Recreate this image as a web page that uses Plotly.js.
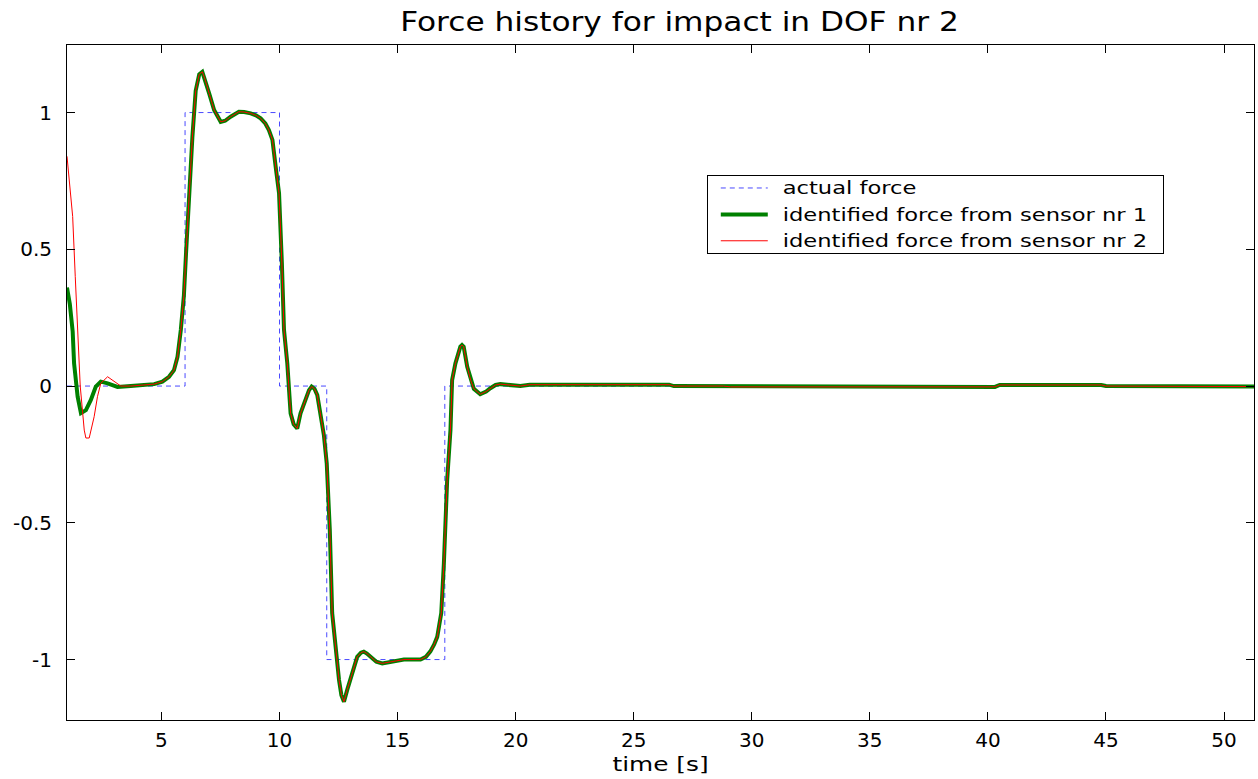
<!DOCTYPE html>
<html>
<head>
<meta charset="utf-8">
<script src="https://cdn.plot.ly/plotly-3.0.1.min.js"></script>
<style>html,body{margin:0;padding:0;background:#fff;}#chart{width:1258px;height:779px;}</style>
</head>
<body>
<div id="chart"></div>
<script>
// actual force (square pulse)
var actualX = [1, 6, 6, 10, 10, 12, 12, 17, 17, 51.27];
var actualY = [0, 0, 1, 1, 0, 0, -1, -1, 0, 0];

// identified force from sensor nr 1
var sensor1X = [1.0, 1.12, 1.24, 1.3, 1.45, 1.59, 1.8, 2.01, 2.22, 2.43, 2.72, 3.14, 3.7, 4.2, 4.69, 5.04, 5.32, 5.53, 5.68, 5.82, 5.95, 6.05, 6.16, 6.31, 6.45, 6.6, 6.73, 6.85, 7.02, 7.23, 7.51, 7.7, 7.93, 8.28, 8.5, 8.78, 9.0, 9.2, 9.4, 9.55, 9.7, 9.84, 9.98, 10.1, 10.19, 10.33, 10.47, 10.6, 10.75, 10.89, 11.11, 11.25, 11.36, 11.48, 11.6, 11.74, 11.88, 12.0, 12.13, 12.23, 12.38, 12.52, 12.62, 12.73, 12.87, 13.08, 13.29, 13.45, 13.57, 13.7, 13.86, 14.1, 14.35, 14.7, 15.27, 15.97, 16.2, 16.39, 16.55, 16.68, 16.85, 16.96, 17.03, 17.1, 17.24, 17.31, 17.45, 17.66, 17.73, 17.8, 17.95, 18.1, 18.23, 18.5, 18.75, 18.93, 19.15, 19.35, 19.8, 20.2, 20.6, 26.5, 26.7, 28.8, 29.1, 40.3, 40.5, 44.8, 45.0, 49.2, 49.4, 51.27];
var sensor1Y = [0.36, 0.3, 0.2, 0.083, -0.039, -0.099, -0.088, -0.051, -0.002, 0.016, 0.01, -0.003, 0.0, 0.003, 0.007, 0.016, 0.034, 0.058, 0.107, 0.205, 0.33, 0.5, 0.68, 0.91, 1.08, 1.14, 1.149, 1.12, 1.07, 1.009, 0.966, 0.97, 0.985, 1.003, 1.002, 0.997, 0.99, 0.979, 0.96, 0.936, 0.9, 0.80, 0.705, 0.45, 0.205, 0.083, -0.1, -0.14, -0.155, -0.1, -0.051, -0.015, -0.002, -0.01, -0.033, -0.1, -0.18, -0.283, -0.527, -0.83, -0.97, -1.075, -1.13, -1.154, -1.11, -1.05, -0.99, -0.975, -0.971, -0.978, -0.99, -1.008, -1.014, -1.008, -1.0, -1.0, -0.99, -0.97, -0.945, -0.917, -0.83, -0.65, -0.5, -0.344, -0.16, 0.022, 0.083, 0.144, 0.15, 0.144, 0.07, 0.02, -0.01, -0.03, -0.02, -0.008, 0.004, 0.007, 0.003, 0.0, 0.005, 0.005, 0.0, 0.0, -0.003, -0.003, 0.004, 0.004, 0.0, 0.0, -0.002, -0.002];

// identified force from sensor nr 2
var sensor2X = [1.0, 1.12, 1.24, 1.35, 1.45, 1.56, 1.73, 1.8, 1.94, 2.15, 2.29, 2.43, 2.72, 2.93, 3.28, 3.7, 4.2, 4.69, 5.04, 5.32, 5.53, 5.68, 5.82, 5.95, 6.05, 6.16, 6.31, 6.45, 6.6, 6.73, 6.85, 7.02, 7.23, 7.51, 7.7, 7.93, 8.28, 8.5, 8.78, 9.0, 9.2, 9.4, 9.55, 9.7, 9.84, 9.98, 10.1, 10.19, 10.33, 10.47, 10.6, 10.75, 10.89, 11.11, 11.25, 11.36, 11.48, 11.6, 11.74, 11.88, 12.0, 12.13, 12.23, 12.38, 12.52, 12.62, 12.73, 12.87, 13.08, 13.29, 13.45, 13.57, 13.7, 13.86, 14.1, 14.35, 14.7, 15.27, 15.97, 16.2, 16.39, 16.55, 16.68, 16.85, 16.96, 17.03, 17.1, 17.24, 17.31, 17.45, 17.66, 17.73, 17.8, 17.95, 18.1, 18.23, 18.5, 18.75, 18.93, 19.15, 19.35, 19.8, 20.2, 20.6, 26.5, 26.7, 28.8, 29.1, 40.3, 40.5, 44.8, 45.0, 49.2, 49.4, 51.27];
var sensor2Y = [0.84, 0.74, 0.62, 0.4, 0.205, 0.0, -0.161, -0.19, -0.19, -0.112, -0.039, 0.01, 0.034, 0.022, 0.0, 0.0, 0.003, 0.007, 0.016, 0.034, 0.058, 0.107, 0.205, 0.33, 0.5, 0.68, 0.91, 1.08, 1.14, 1.149, 1.12, 1.07, 1.009, 0.966, 0.97, 0.985, 1.003, 1.002, 0.997, 0.99, 0.979, 0.96, 0.936, 0.9, 0.80, 0.705, 0.45, 0.205, 0.083, -0.1, -0.14, -0.155, -0.1, -0.051, -0.015, -0.002, -0.01, -0.033, -0.1, -0.18, -0.283, -0.527, -0.83, -0.97, -1.075, -1.13, -1.154, -1.11, -1.05, -0.99, -0.975, -0.971, -0.978, -0.99, -1.008, -1.014, -1.008, -1.0, -1.0, -0.99, -0.97, -0.945, -0.917, -0.83, -0.65, -0.5, -0.344, -0.16, 0.022, 0.083, 0.144, 0.15, 0.144, 0.07, 0.02, -0.01, -0.03, -0.02, -0.008, 0.004, 0.007, 0.003, 0.0, 0.005, 0.005, 0.0, 0.0, -0.003, -0.003, 0.004, 0.004, 0.0, 0.0, -0.002, -0.002];

var xTicks = [5, 10, 15, 20, 25, 30, 35, 40, 45, 50];
var yTicks = [-1, -0.5, 0, 0.5, 1];
var yTickLabels = ['-1', '-0.5', '0', '0.5', '1'];

var seriesNames = ['actual force', 'identified force from sensor nr 1', 'identified force from sensor nr 2'];

var font = 'DejaVu Sans, Liberation Sans, Arial, sans-serif';

var traces = [
  {x: actualX, y: actualY, type: 'scatter', mode: 'lines', name: seriesNames[0],
   line: {color: '#4a4aff', width: 1, dash: '5px,4px'}},
  {x: sensor1X, y: sensor1Y, type: 'scatter', mode: 'lines', name: seriesNames[1],
   line: {color: '#008000', width: 4}},
  {x: sensor2X, y: sensor2Y, type: 'scatter', mode: 'lines', name: seriesNames[2],
   line: {color: '#ff0000', width: 1}}
];

var layout = {
  width: 1258, height: 779,
  margin: {l: 67, r: 4, t: 45, b: 59, pad: 0},
  paper_bgcolor: '#ffffff', plot_bgcolor: '#ffffff',
  font: {family: font, color: '#000000', size: 20},
  title: {text: 'Force history for impact in DOF nr 2', font: {family: font, size: 26, color: '#000'},
          x: 0.516, xref: 'paper', xanchor: 'center', y: 0.972, yref: 'container', yanchor: 'middle'},
  xaxis: {
    range: [1, 51.27], tickmode: 'array', tickvals: xTicks,
    ticks: 'inside', ticklen: 8, tickcolor: '#000', tickwidth: 1,
    showline: true, linecolor: '#000', linewidth: 1, mirror: 'ticks',
    showgrid: false, zeroline: false, ticklabelstandoff: 2,
    tickfont: {family: font, size: 20, color: '#000'},
    title: {text: 'time [s]', font: {family: font, size: 20, color: '#000'}, standoff: 4}
  },
  yaxis: {
    range: [-1.221, 1.247], tickmode: 'array', tickvals: yTicks, ticktext: yTickLabels,
    ticks: 'inside', ticklen: 8, tickcolor: '#000', tickwidth: 1,
    showline: true, linecolor: '#000', linewidth: 1, mirror: 'ticks',
    showgrid: false, zeroline: false, ticklabelstandoff: 10,
    tickfont: {family: font, size: 20, color: '#000'}
  },
  showlegend: true,
  legend: {
    x: 0.539, y: 0.807, xanchor: 'left', yanchor: 'top',
    bordercolor: '#000', borderwidth: 1, bgcolor: '#fff',
    font: {family: font, size: 18, color: '#000'},
    tracegroupgap: 0, itemwidth: 40
  }
};

// widen text horizontally (the reference's lettering is stretched sideways)
function stretchText(nodes, s, anchor, dx) {
  var extra = 0;
  nodes.forEach(function (t) {
    var b = t.getBBox();
    var cx = anchor === 'start' ? b.x : (anchor === 'end' ? b.x + b.width : b.x + b.width / 2);
    var prev = t.getAttribute('transform') || '';
    t.setAttribute('transform', prev + ' translate(' + (cx + (dx || 0)) + ',0) scale(' + s + ',1) translate(' + (-cx) + ',0)');
    extra = Math.max(extra, b.width * (s - 1));
  });
  return extra;
}

Plotly.newPlot('chart', traces, layout, {displayModeBar: false, staticPlot: true}).then(function (gd) {
  stretchText(gd.querySelectorAll('.gtitle'), 1.2, 'middle');
  stretchText(gd.querySelectorAll('.xtitle'), 1.24, 'middle');
  var shift = 25, lift = 7;
  var extra = stretchText(gd.querySelectorAll('.legendtext'), 1.255, 'start', shift);
  // longer legend line samples, as in the reference (path redrawn, dashes unscaled)
  gd.querySelectorAll('.legend .legendlines path').forEach(function (p) {
    var b = p.getBBox();
    p.setAttribute('d', 'M' + (b.x + 8) + ',0.5h47');
  });
  gd.querySelectorAll('.legend .traces').forEach(function (g) {
    var prev = g.getAttribute('transform') || '';
    g.setAttribute('transform', prev + ' translate(0,' + (-lift) + ')');
  });
  var addW = extra + shift + 10, addH = -2 * lift + 1;
  var bg = gd.querySelector('.legend .bg');
  if (bg) {
    bg.setAttribute('width', parseFloat(bg.getAttribute('width')) + addW);
    bg.setAttribute('height', parseFloat(bg.getAttribute('height')) + addH);
  }
  var sb = gd.querySelector('.legend .scrollbox');
  if (sb) {
    var cp = sb.getAttribute('clip-path');
    if (cp) {
      var m = cp.match(/#([^)'"]+)/);
      if (m) {
        var r = document.querySelector('[id="' + m[1] + '"] rect');
        if (r) {
          r.setAttribute('width', parseFloat(r.getAttribute('width')) + addW);
          r.setAttribute('height', parseFloat(r.getAttribute('height')) + addH);
        }
      }
    }
  }
});
</script>
</body>
</html>
